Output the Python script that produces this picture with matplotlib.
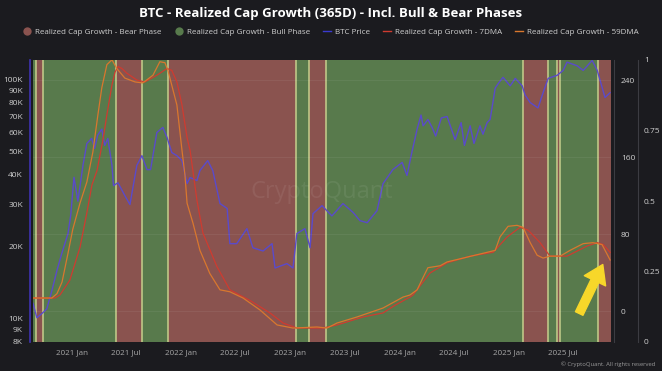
import numpy as np
import pandas as pd
import matplotlib
matplotlib.use("Agg")
import matplotlib.pyplot as plt
import matplotlib.dates as mdates
from matplotlib.lines import Line2D
from matplotlib.patches import FancyArrowPatch

plt.rcParams['font.family'] = ['Open Sans', 'DejaVu Sans']

# ---- data ----
phase_start = ['2020-08-24', '2020-09-02', '2020-09-26', '2021-05-30', '2021-08-22',
               '2021-11-17', '2023-01-19', '2023-03-05', '2023-04-29', '2025-02-16',
               '2025-05-12', '2025-06-09', '2025-06-21', '2025-10-24']
phase_type = ['bull', 'bear', 'bull', 'bear', 'bull', 'bear', 'bull', 'bear', 'bull',
              'bear', 'bull', 'bear', 'bull', 'bear']
phase_end = '2025-12-08'

price_dates = ['2020-08-24', '2020-09-06', '2020-09-22', '2020-10-09', '2020-10-26',
               '2020-11-12', '2020-11-29', '2020-12-19', '2020-12-28', '2021-01-08',
               '2021-01-21', '2021-02-07', '2021-02-20', '2021-03-08', '2021-03-18',
               '2021-03-28', '2021-04-11', '2021-04-21', '2021-05-01', '2021-05-15',
               '2021-05-20', '2021-06-04', '2021-06-27', '2021-07-14', '2021-08-06',
               '2021-08-23', '2021-09-09', '2021-09-21', '2021-10-12', '2021-11-01',
               '2021-11-15', '2021-12-01', '2021-12-18', '2022-01-04', '2022-01-21',
               '2022-01-31', '2022-02-23', '2022-03-05', '2022-03-31', '2022-04-17',
               '2022-05-11', '2022-06-04', '2022-06-13', '2022-07-06', '2022-08-09',
               '2022-08-29', '2022-10-02', '2022-11-01', '2022-11-11', '2022-12-21',
               '2023-01-10', '2023-01-23', '2023-02-19', '2023-03-08', '2023-03-18',
               '2023-04-17', '2023-05-20', '2023-06-26', '2023-07-30', '2023-08-22',
               '2023-09-15', '2023-10-18', '2023-11-07', '2023-12-10', '2024-01-10',
               '2024-01-26', '2024-02-12', '2024-02-29', '2024-03-13', '2024-03-20',
               '2024-04-05', '2024-04-19', '2024-05-01', '2024-05-20', '2024-06-08',
               '2024-07-05', '2024-07-25', '2024-08-05', '2024-08-24', '2024-09-06',
               '2024-09-26', '2024-10-06', '2024-10-20', '2024-10-30', '2024-11-16',
               '2024-11-26', '2024-12-12', '2025-01-05', '2025-01-22', '2025-02-14',
               '2025-02-24', '2025-03-13', '2025-04-08', '2025-04-25', '2025-05-12',
               '2025-06-11', '2025-07-01', '2025-07-14', '2025-08-17', '2025-09-06',
               '2025-10-06', '2025-10-23', '2025-11-18', '2025-12-05']
price_k = [11.6, 10.1, 10.5, 11.0, 13.1,
           15.9, 18.9, 22.7, 27.0, 39.0,
           31.0, 43.7, 54.0, 56.7, 51.5,
           58.4, 62.0, 53.0, 56.7, 43.7,
           36.0, 37.0, 32.7, 30.0, 43.7,
           48.0, 42.0, 42.0, 60.0, 63.0,
           57.2, 49.5, 48.0, 45.8, 36.7,
           38.9, 37.8, 41.6, 45.8, 41.6,
           30.3, 28.9, 20.6, 20.6, 23.8,
           19.8, 19.2, 20.6, 16.3, 17.0,
           16.3, 22.7, 23.8, 19.8, 27.5,
           29.7, 26.9, 30.3, 27.8, 25.7,
           25.2, 28.3, 36.7, 42.0, 45.0,
           39.7, 50.0, 62.0, 71.0, 64.0,
           68.0, 63.0, 58.0, 69.0, 70.0,
           56.0, 66.0, 53.0, 64.0, 54.0,
           64.0, 59.0, 66.0, 68.0, 92.0,
           96.0, 102.0, 94.0, 101.0, 94.0,
           86.0, 80.0, 76.0, 88.0, 101.0,
           104.0, 109.0, 118.0, 114.0, 109.0,
           120.0, 109.0, 84.0, 88.0]

fast_dates = ['2020-08-24', '2020-10-26', '2020-11-12', '2020-11-29', '2020-12-19',
              '2021-01-04', '2021-01-28', '2021-02-20', '2021-03-12', '2021-03-29',
              '2021-04-11', '2021-04-28', '2021-05-15', '2021-05-31', '2021-06-27',
              '2021-07-31', '2021-08-26', '2021-09-29', '2021-10-22', '2021-11-08',
              '2021-11-18', '2021-12-18', '2022-01-04', '2022-01-14', '2022-01-21',
              '2022-02-10', '2022-03-05', '2022-04-07', '2022-05-11', '2022-06-13',
              '2022-07-27', '2022-09-22', '2022-11-18', '2023-01-10', '2023-03-31',
              '2023-05-04', '2023-06-06', '2023-08-12', '2023-11-07', '2024-01-13',
              '2024-02-05', '2024-02-29', '2024-03-20', '2024-04-05', '2024-05-16',
              '2024-06-08', '2024-08-01', '2024-10-20', '2024-11-16', '2024-12-02',
              '2024-12-29', '2025-01-28', '2025-02-17', '2025-03-13', '2025-04-05',
              '2025-04-25', '2025-05-18', '2025-06-21', '2025-07-24', '2025-09-06',
              '2025-10-09', '2025-11-08', '2025-12-05']
fast_vals = [13.5, 13.5, 18, 30, 60,
             85, 112, 134, 165, 204,
             232, 256, 261, 252, 242,
             238, 237, 245, 259, 258,
             250, 214, 167, 141, 112,
             91, 63, 39, 22, 20,
             13.5, 1, -14.5, -17.7, -16.6,
             -17.7, -12.5, -6.2, 3.1, 14.5,
             16.6, 22, 35, 45, 47,
             51, 55, 61, 63, 77,
             88, 89, 87, 71, 58,
             55, 57, 57, 63, 70,
             71, 69, 53]

slow_dates = ['2020-08-24', '2020-11-05', '2020-11-22', '2020-12-25', '2021-01-28',
              '2021-02-20', '2021-03-09', '2021-03-26', '2021-04-15', '2021-04-28',
              '2021-05-15', '2021-05-25', '2021-06-04', '2021-06-17', '2021-07-04',
              '2021-08-06', '2021-09-02', '2021-10-12', '2021-11-15', '2021-12-01',
              '2021-12-18', '2022-01-04', '2022-01-21', '2022-01-31', '2022-02-23',
              '2022-03-15', '2022-05-01', '2022-06-13', '2022-08-19', '2022-10-25',
              '2022-12-08', '2023-01-23', '2023-04-20', '2023-06-06', '2023-09-01',
              '2023-11-07', '2023-12-17', '2024-02-05', '2024-02-15', '2024-04-12',
              '2024-06-08', '2024-08-24', '2024-11-09', '2024-12-26', '2025-02-07',
              '2025-03-06', '2025-04-15', '2025-05-18', '2025-07-14', '2025-09-19',
              '2025-10-23', '2025-11-12', '2025-12-05']
slow_vals = [13.5, 13.5, 16.6, 32, 66,
             102, 131, 146, 178, 204,
             235, 248, 254, 252, 247,
             240, 238, 245, 252, 250,
             238, 214, 180, 167, 115,
             81, 46, 22, 11, -2,
             -12.5, -17.7, -17.7, -14.5, -6.2,
             -2, 6, 14.5, 16.6, 39.5,
             50, 57, 61, 77, 87,
             84, 71, 57, 57, 67.5,
             71, 69, 61]

tick_dates = ['2021-01-01', '2021-07-01', '2022-01-01', '2022-07-01', '2023-01-01',
              '2023-07-01', '2024-01-01', '2024-07-01', '2025-01-01', '2025-07-01']
tick_labels = ['2021 Jan', '2021 Jul', '2022 Jan', '2022 Jul', '2023 Jan',
               '2023 Jul', '2024 Jan', '2024 Jul', '2025 Jan', '2025 Jul']

price_ticks = [8000, 9000, 10000, 20000, 30000, 40000, 50000, 60000, 70000, 80000, 90000, 100000]
growth_ticks = [0, 80, 160, 240]
phase_ticks = [0, 0.25, 0.5, 0.75, 1]

# ---- style ----
bg = '#1b1b1f'
bear_c = '#8a534f'
bull_c = '#587a4c'
edge_c = '#c6cf8c'
price_c = '#5a4acb'
fast_c = '#d9772e'
slow_c = '#cf3b30'
txt_c = '#cfcfcf'
px = 72 / 100  # one pixel in points

fig = plt.figure(figsize=(6.62, 3.71), dpi=100, facecolor=bg)
ax = fig.add_axes([33 / 662, 29 / 371, 578 / 662, 282 / 371])
ax.set_facecolor(bg)

# phase bars on the 0-1 axis
starts = mdates.date2num(pd.to_datetime(phase_start))
ends = np.append(starts[1:], mdates.date2num(pd.Timestamp(phase_end)))
for s, e, t in zip(starts, ends, phase_type):
    ax.bar(s, 1, width=e - s, align='edge', color=bear_c if t == 'bear' else bull_c,
           linewidth=0, zorder=1)
for s in starts[1:]:
    ax.axvline(s, color=edge_c, lw=1.1, zorder=2)
ax.set_ylim(0, 1)
ax.set_xlim(starts[0], ends[-1])

price_ax = ax.twinx()
growth_ax = ax.twinx()

# host axis -> far right 0..1 scale
ax.yaxis.tick_right()
ax.spines['right'].set_position(('outward', 27 * px))
for sp in ['top', 'left', 'bottom']:
    ax.spines[sp].set_visible(False)
ax.spines['right'].set_color('#3c3c42')
ax.set_yticks(phase_ticks)
ax.set_yticklabels(['0', '0.25', '0.5', '0.75', '1'])
ax.tick_params(axis='y', length=0, pad=6 * px, labelsize=6, labelcolor=txt_c)
ax.set_xticks(mdates.date2num(pd.to_datetime(tick_dates)))
ax.set_xticklabels(tick_labels)
ax.tick_params(axis='x', length=0, pad=5, labelsize=5.8, labelcolor='#a8a8a8')

# BTC price, log scale on the left
price_ax.set_yscale('log')
price_ax.plot(mdates.date2num(pd.to_datetime(price_dates)), np.array(price_k) * 1000,
              color=price_c, lw=1.0, zorder=3)
price_ax.set_ylim(8000, 120500)
price_ax.yaxis.tick_left()
price_ax.set_yticks(price_ticks)
price_ax.set_yticklabels([f'{int(v / 1000)}K' for v in price_ticks])
price_ax.yaxis.set_minor_locator(matplotlib.ticker.NullLocator())
price_ax.tick_params(axis='y', length=0, pad=7 * px, labelsize=6, labelcolor=txt_c)
for sp in ['top', 'right', 'bottom']:
    price_ax.spines[sp].set_visible(False)
price_ax.spines['left'].set_position(('outward', 3 * px))
price_ax.spines['left'].set_color('#3e33b0')
price_ax.spines['left'].set_linewidth(1.2)

# realized cap growth curves, middle axis
growth_ax.plot(mdates.date2num(pd.to_datetime(slow_dates)), slow_vals, color=slow_c, lw=0.9, zorder=4)
growth_ax.plot(mdates.date2num(pd.to_datetime(fast_dates)), fast_vals, color=fast_c, lw=0.9, zorder=4)
growth_ax.set_ylim(-32.2, 260.8)
growth_ax.set_yticks(growth_ticks)
growth_ax.grid(axis='y', color='white', alpha=0.07, lw=0.6)
growth_ax.tick_params(axis='y', length=0, pad=7 * px, labelsize=6, labelcolor=txt_c)
for sp in ['top', 'left', 'bottom']:
    growth_ax.spines[sp].set_visible(False)
growth_ax.spines['right'].set_position(('outward', 3 * px))
growth_ax.spines['right'].set_color('#3c3c42')
growth_ax.set_xlim(starts[0], ends[-1])

# title and legend
fig.text(0.5, 1 - 13 / 371, 'BTC - Realized Cap Growth (365D) - Incl. Bull & Bear Phases',
         ha='center', va='center', color='white', fontsize=9.5, fontweight='bold')
handles = [
    Line2D([], [], marker='o', ls='none', markersize=6, color=bear_c, markeredgewidth=0),
    Line2D([], [], marker='o', ls='none', markersize=6, color=bull_c, markeredgewidth=0),
    Line2D([], [], color='#3a3ad0', lw=1),
    Line2D([], [], color=slow_c, lw=1),
    Line2D([], [], color=fast_c, lw=1),
]
labels = ['Realized Cap Growth - Bear Phase', 'Realized Cap Growth - Bull Phase', 'BTC Price',
          'Realized Cap Growth - 7DMA', 'Realized Cap Growth - 59DMA']
fig.legend(handles, labels, loc='center', bbox_to_anchor=(0.5, 1 - 32 / 371), ncol=5,
           frameon=False, fontsize=5.8, labelcolor=txt_c, handlelength=1.0,
           handletextpad=0.5, columnspacing=1.6)

# watermark and copyright
fig.text(322 / 662, 1 - 192 / 371, 'CryptoQuant', ha='center', va='center',
         color='white', alpha=0.07, fontsize=17)
fig.text(655 / 662, 1 - 364 / 371, '© CryptoQuant. All rights reserved', ha='right',
         va='center', color='#9a9a9a', fontsize=4.2)

# yellow arrow
arrow = FancyArrowPatch((578 / 662, 1 - 316 / 371), (604 / 662, 1 - 262 / 371),
                        transform=fig.transFigure,
                        arrowstyle='simple,head_width=17,head_length=13,tail_width=6',
                        color='#f7d72a', mutation_scale=1, zorder=10)
fig.patches.append(arrow)

fig.savefig('out.png', dpi=100, facecolor=bg)
